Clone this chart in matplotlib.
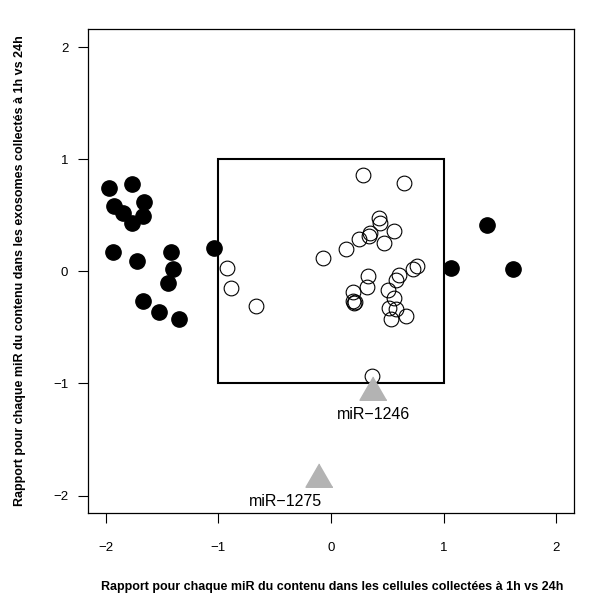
import matplotlib
matplotlib.use("Agg")
import matplotlib.pyplot as plt
from matplotlib.patches import Rectangle

plt.rcParams['font.family'] = ['Liberation Sans', 'DejaVu Sans']

# miRs hors du cadre (points pleins)
out_x = [-1.973, -1.766, -1.929, -1.846, -1.769, -1.665, -1.674, -1.940, -1.722,
         -1.422, -1.404, -1.452, -1.668, -1.526, -1.351, -1.037, 1.389, 1.067, 1.620]
out_y = [0.745, 0.781, 0.579, 0.523, 0.434, 0.619, 0.494, 0.172, 0.095,
         0.172, 0.020, -0.104, -0.261, -0.362, -0.421, 0.207, 0.416, 0.029, 0.020]

# miRs dans le cadre (cercles vides)
in_x = [-0.927, -0.886, -0.664, 0.282, 0.652, 0.424, 0.433, 0.560, 0.344, 0.335,
        0.252, 0.471, 0.131, -0.067, 0.326, 0.317, 0.198, 0.192, 0.204, 0.210,
        0.604, 0.578, 0.762, 0.732, 0.507, 0.563, 0.518, 0.578, 0.536, 0.664, 0.362]
in_y = [0.029, -0.151, -0.305, 0.858, 0.784, 0.478, 0.430, 0.356, 0.341, 0.312,
        0.291, 0.256, 0.196, 0.122, -0.045, -0.140, -0.184, -0.262, -0.285, -0.272,
        -0.036, -0.074, 0.045, 0.024, -0.169, -0.238, -0.327, -0.332, -0.421, -0.401, -0.935]

# miRs annotés (triangles gris)
tri_names = ["miR\u22121246", "miR\u22121275"]
tri_x = [0.376, -0.104]
tri_y = [-1.076, -1.853]
lab_x = [0.376, -0.40]
lab_y = [-1.276, -2.054]

ticks = [-2, -1, 0, 1, 2]

fig = plt.figure(figsize=(5.9, 5.95), dpi=100)
ax = fig.add_axes([0.149, 0.137, 0.824, 0.814])

ax.plot(out_x, out_y, 'o', color='black', markersize=11, linestyle='none')
ax.plot(in_x, in_y, 'o', markerfacecolor='none', markeredgecolor='black',
        markeredgewidth=0.8, markersize=10.6, linestyle='none')

tri = [(0, 1), (-0.866, -0.5), (0.866, -0.5)]
ax.plot(tri_x, tri_y, marker=tri, color='#b3b3b3', markersize=22.4, linestyle='none')
for name, x, y in zip(tri_names, lab_x, lab_y):
    ax.text(x, y, name, ha='center', va='center', fontsize=11.5)

ax.add_patch(Rectangle((-1, -1), 2, 2, fill=False, edgecolor='black', linewidth=1.5))

ax.set_xlim(-2.16, 2.16)
ax.set_ylim(-2.16, 2.16)
ax.set_xticks(ticks)
ax.set_yticks(ticks)
ax.tick_params(axis='both', direction='out', length=7.2, width=0.8, labelsize=9.5)
ax.tick_params(axis='x', pad=13)
ax.tick_params(axis='y', pad=7)
for s in ax.spines.values():
    s.set_linewidth(0.9)

fig.text(0.5627, 0.014, "Rapport pour chaque miR du contenu dans les cellules collectées à 1h vs 24h",
         ha='center', va='center', fontsize=9, fontweight='bold')
fig.text(0.034, 0.545, "Rapport pour chaque miR du contenu dans les exosomes collectés à 1h vs 24h",
         ha='center', va='center', rotation=90, fontsize=9, fontweight='bold')

fig.savefig("out.png", dpi=100)
